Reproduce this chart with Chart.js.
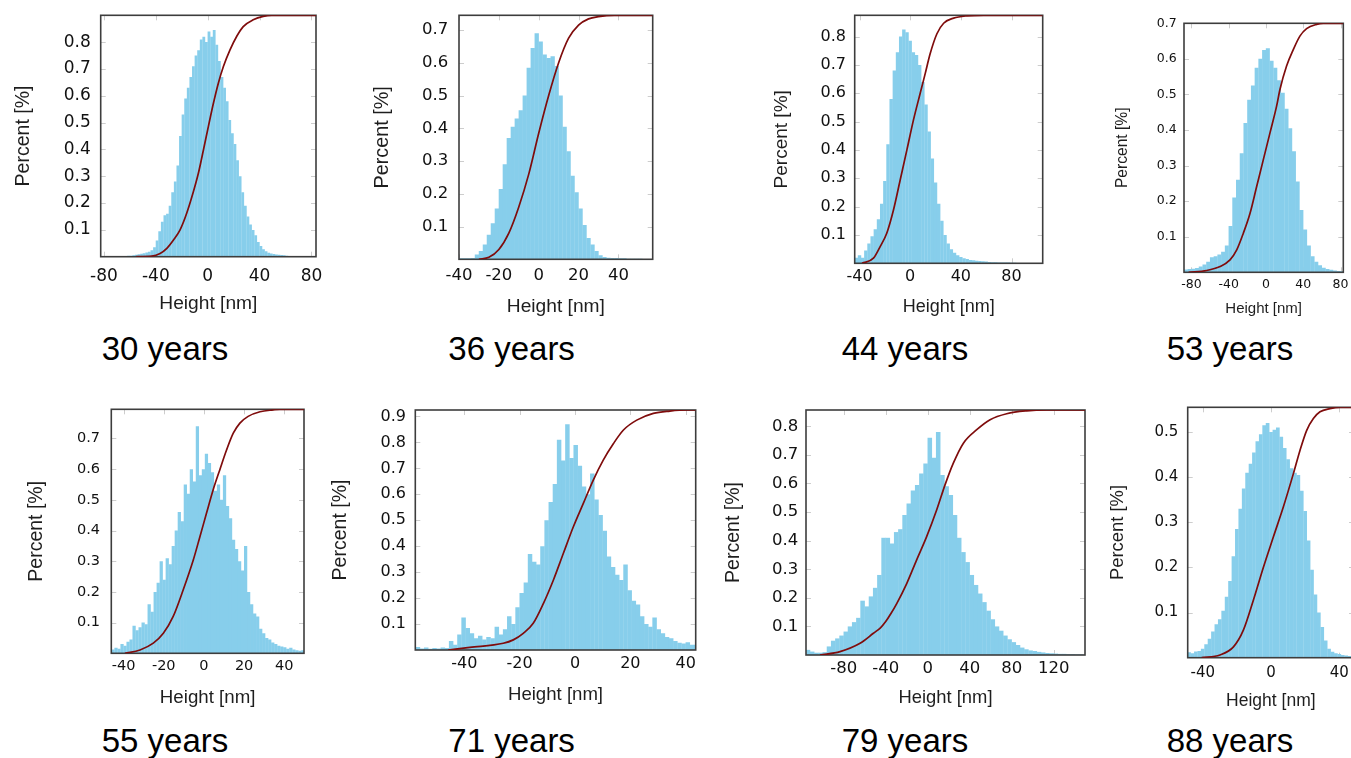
<!DOCTYPE html>
<html>
<head>
<meta charset="utf-8">
<script src="https://cdn.jsdelivr.net/npm/chart.js@4.4.0/dist/chart.umd.min.js"></script>
<style>
  html, body { margin: 0; padding: 0; background: #fff; }
  body { position: relative; width: 1351px; height: 758px; overflow: hidden; }
  canvas { position: absolute; }
  .age { position: absolute; font-family: "Liberation Sans", Arial, sans-serif; font-size: 33px; line-height: 33px; color: #000; white-space: nowrap; }
</style>
</head>
<body>
<script>

// ---- data ----
// histograms: first bin edge + bin width (nm), bar heights (%)

const start30 = -82, step30 = 2;
const hist30 = [0.003,0.003,0.002,0.003,0.002,0.003,0.003,0.002,0.003,0.003,
  0.004,0.004,0.005,0.007,0.009,0.011,0.013,0.016,0.018,0.024,
  0.035,0.06,0.095,0.13,0.155,0.16,0.19,0.24,0.28,0.34,
  0.45,0.53,0.59,0.63,0.67,0.71,0.75,0.77,0.81,0.82,
  0.8,0.84,0.82,0.845,0.79,0.73,0.67,0.63,0.58,0.51,
  0.46,0.42,0.36,0.3,0.24,0.19,0.15,0.12,0.1,0.08,
  0.055,0.04,0.028,0.02,0.015,0.012,0.01,0.008,0.007,0.006,
  0.005,0.004,0.003,0.002];
// cumulative curve
const curveX30 = [-55,-43.1,-36.7,-31.5,-26.4,-21.3,-16.2,-11,-7.2,-3.3,0.5,4.4,8.2,12.1,17.2,22.3,27.4,35.1,42.8,49.2,83.5];
const curveY30 = [0,0.002,0.012,0.031,0.062,0.1,0.162,0.243,0.311,0.398,0.485,0.572,0.647,0.709,0.771,0.821,0.858,0.883,0.896,0.9,0.9];
const xTicks30 = [-80,-40,0,40,80];
const yTicks30 = [0.1,0.2,0.3,0.4,0.5,0.6,0.7,0.8];

const start36 = -40, step36 = 2;
const hist36 = [0.003,0.003,0.003,0.004,0.015,0.025,0.045,0.075,0.11,0.155,
  0.215,0.29,0.37,0.405,0.43,0.455,0.5,0.585,0.645,0.69,
  0.665,0.625,0.615,0.62,0.59,0.5,0.405,0.33,0.255,0.205,
  0.155,0.105,0.065,0.045,0.025,0.012,0.007,0.005,0.004,0.004,
  0.003,0.003,0.002,0.002,0.002,0.002,0.001,0.001,0.001];
const curveX36 = [-30,-25,-20,-15,-10,-5,0,5,10,15,20,25,30,38,57.2];
const curveY36 = [0,0.006,0.03,0.08,0.16,0.26,0.385,0.5,0.6,0.675,0.715,0.734,0.741,0.745,0.745];
const xTicks36 = [-40,-20,0,20,40];
const yTicks36 = [0.1,0.2,0.3,0.4,0.5,0.6,0.7];

const start44 = -43.75, step44 = 2.5;
const hist44 = [0.02,0.028,0.02,0.045,0.07,0.095,0.12,0.155,0.21,0.29,
  0.42,0.58,0.68,0.745,0.8,0.825,0.815,0.785,0.745,0.735,
  0.7,0.64,0.56,0.465,0.37,0.285,0.21,0.15,0.1,0.07,
  0.05,0.037,0.028,0.022,0.018,0.015,0.012,0.011,0.009,0.008,
  0.007,0.006,0.005,0.004,0.004,0.003,0.003,0.003,0.003,0.002,
  0.002];
const curveX44 = [-38,-29,-23.7,-18.5,-13.2,-7.9,-2.6,2.6,7.9,11.9,15.8,21.1,26.4,34.3,44.9,58,104.6];
const curveY44 = [0,0.018,0.059,0.106,0.188,0.294,0.4,0.506,0.6,0.67,0.74,0.81,0.847,0.865,0.873,0.875,0.875];
const xTicks44 = [-40,0,40,80];
const yTicks44 = [0.1,0.2,0.3,0.4,0.5,0.6,0.7,0.8];

const start53 = -88, step53 = 4;
const hist53 = [0.008,0.009,0.01,0.012,0.016,0.022,0.03,0.042,0.045,0.05,
  0.058,0.075,0.13,0.21,0.26,0.335,0.42,0.485,0.525,0.575,
  0.6,0.625,0.63,0.595,0.575,0.54,0.505,0.46,0.405,0.34,
  0.255,0.175,0.12,0.075,0.045,0.03,0.02,0.013,0.009,0.007,
  0.005,0.004,0.003];
const curveX53 = [-83,-63.6,-49.3,-38.6,-31.4,-24.3,-17.1,-10,-2.9,4.3,11.4,15,22.1,29.3,36.4,43.6,54.3,61.4,83];
const curveY53 = [0,0.005,0.016,0.035,0.063,0.11,0.166,0.241,0.316,0.392,0.467,0.514,0.58,0.626,0.664,0.685,0.697,0.7,0.7];
const xTicks53 = [-80,-40,0,40,80];
const yTicks53 = [0.1,0.2,0.3,0.4,0.5,0.6,0.7];

const start55 = -46, step55 = 1.5;
const hist55 = [0.012,0.018,0.015,0.03,0.025,0.038,0.045,0.09,0.075,0.085,
  0.1,0.095,0.16,0.135,0.2,0.23,0.3,0.24,0.31,0.29,
  0.35,0.4,0.46,0.43,0.55,0.52,0.6,0.56,0.74,0.58,
  0.6,0.65,0.62,0.59,0.53,0.55,0.5,0.58,0.48,0.44,
  0.37,0.34,0.3,0.27,0.35,0.2,0.16,0.13,0.12,0.08,
  0.065,0.05,0.045,0.035,0.03,0.025,0.022,0.02,0.015,0.018,
  0.012,0.01,0.008,0.01];
const curveX55 = [-39.3,-31.8,-25.2,-20.2,-15.3,-10.3,-5.3,-2,1.3,4.6,8,11.3,14.6,17.9,22,27.9,34.5,37.8,49.8];
const curveY55 = [0,0.011,0.033,0.065,0.12,0.207,0.304,0.38,0.457,0.533,0.6,0.663,0.717,0.75,0.772,0.787,0.793,0.795,0.795];
const xTicks55 = [-40,-20,0,20,40];
const yTicks55 = [0.1,0.2,0.3,0.4,0.5,0.6,0.7];

const start71 = -57.5, step71 = 1.5;
const hist71 = [0.012,0.006,0.01,0.005,0.008,0.006,0.01,0.008,0.035,0.02,
  0.06,0.125,0.085,0.065,0.045,0.055,0.04,0.05,0.045,0.09,
  0.06,0.08,0.13,0.1,0.165,0.22,0.26,0.37,0.34,0.33,
  0.4,0.5,0.57,0.64,0.81,0.73,0.87,0.74,0.79,0.71,
  0.63,0.6,0.68,0.58,0.52,0.46,0.36,0.32,0.29,0.27,
  0.33,0.23,0.19,0.175,0.13,0.1,0.09,0.125,0.08,0.065,
  0.05,0.045,0.035,0.028,0.025,0.03,0.02,0.02];
const curveX71 = [-45.8,-38,-25.9,-22.3,-18.7,-15.1,-11.4,-7.8,-4.2,-0.6,3,6.6,10.2,13.9,17.5,22.3,28.3,34.3,40.4,43.6];
const curveY71 = [0,0.01,0.026,0.039,0.064,0.103,0.18,0.27,0.373,0.475,0.565,0.655,0.732,0.796,0.848,0.886,0.912,0.921,0.925,0.925];
const xTicks71 = [-40,-20,0,20,40];
const yTicks71 = [0.1,0.2,0.3,0.4,0.5,0.6,0.7,0.8,0.9];

const start79 = -116, step79 = 4;
const hist79 = [0.018,0.012,0.008,0.008,0.01,0.03,0.05,0.058,0.068,0.082,
  0.1,0.115,0.13,0.19,0.17,0.205,0.235,0.28,0.41,0.41,
  0.39,0.43,0.44,0.49,0.53,0.575,0.595,0.635,0.67,0.76,
  0.69,0.78,0.63,0.59,0.56,0.49,0.41,0.36,0.325,0.28,
  0.245,0.215,0.185,0.155,0.125,0.1,0.085,0.068,0.055,0.045,
  0.035,0.026,0.02,0.016,0.014,0.011,0.009,0.007,0.006,0.005,
  0.004,0.004,0.003,0.003,0.002,0.002];
const curveX79 = [-102.5,-83.5,-64.4,-51.7,-45,-40,-35,-29.5,-20,-10.5,-1,8.6,16.5,24.4,34,46.7,59.4,75.2,94.3,113,149.8];
const curveY79 = [0,0.012,0.041,0.076,0.095,0.117,0.145,0.18,0.25,0.333,0.414,0.508,0.595,0.671,0.741,0.788,0.823,0.844,0.854,0.857,0.857];
const xTicks79 = [-80,-40,0,40,80,120];
const yTicks79 = [0.1,0.2,0.3,0.4,0.5,0.6,0.7,0.8];

const start88 = -49, step88 = 2;
const hist88 = [0.012,0.01,0.014,0.015,0.02,0.03,0.042,0.058,0.074,0.085,
  0.104,0.135,0.17,0.225,0.285,0.33,0.375,0.41,0.43,0.455,
  0.48,0.495,0.515,0.52,0.5,0.505,0.51,0.49,0.465,0.44,
  0.42,0.41,0.405,0.37,0.325,0.26,0.195,0.14,0.1,0.068,
  0.038,0.02,0.013,0.01,0.008,0.006,0.005,0.004];
const curveX88 = [-40.6,-29.9,-22,-16.2,-10.3,-4.5,1.4,7.2,13.1,17,20.9,24.8,28.7,34.5,40.4,48.6];
const curveY88 = [0,0.006,0.024,0.061,0.128,0.2,0.268,0.334,0.408,0.46,0.504,0.53,0.545,0.552,0.555,0.555];
const xTicks88 = [-40,0,40];
const yTicks88 = [0.1,0.2,0.3,0.4,0.5];


// ---- layout of the 8 panels (plot box = left, top, right, bottom) ----

const panels = [
  { age: '30 years', hist: hist30, start: start30, step: step30, cx: curveX30, cy: curveY30, xt: xTicks30, yt: yTicks30,
    xMin: -82.5, xMax: 83.5, yMax: 0.9, box: [100.7, 15.3, 316, 256.7],
    tick: 17, xTitle: 19.2, yTitle: 19.5, tickY: 277, gapY: 10, xTitleY: 304, yTitleX: 23.3, name: [101.7, 360] },
  { age: '36 years', hist: hist36, start: start36, step: step36, cx: curveX36, cy: curveY36, xt: xTicks36, yt: yTicks36,
    xMin: -40, xMax: 57.2, yMax: 0.745, box: [459, 15.3, 652.7, 259.3],
    tick: 16.5, xTitle: 19.2, yTitle: 19.8, tickY: 276, gapY: 10.7, xTitleY: 306.7, yTitleX: 382.5, name: [448.3, 359.5] },
  { age: '44 years', hist: hist44, start: start44, step: step44, cx: curveX44, cy: curveY44, xt: xTicks44, yt: yTicks44,
    xMin: -43.8, xMax: 104.6, yMax: 0.875, box: [854.7, 15.3, 1042.7, 263.3],
    tick: 16, xTitle: 18, yTitle: 19, tickY: 276.7, gapY: 8.7, xTitleY: 307.5, yTitleX: 781.7, name: [841.7, 359.5] },
  { age: '53 years', hist: hist53, start: start53, step: step53, cx: curveX53, cy: curveY53, xt: xTicks53, yt: yTicks53,
    xMin: -88, xMax: 83, yMax: 0.7, box: [1184, 23.3, 1343.3, 272.3],
    tick: 12.5, xTitle: 15, yTitle: 15.6, tickY: 285, gapY: 7.3, xTitleY: 309, yTitleX: 1123, name: [1166.7, 359.5] },
  { age: '55 years', hist: hist55, start: start55, step: step55, cx: curveX55, cy: curveY55, xt: xTicks55, yt: yTicks55,
    xMin: -46.1, xMax: 49.8, yMax: 0.795, box: [111.3, 409.3, 304, 653.3],
    tick: 14.5, xTitle: 18.7, yTitle: 19.5, tickY: 666.7, gapY: 11.3, xTitleY: 698.3, yTitleX: 36.7, name: [101.7, 752] },
  { age: '71 years', hist: hist71, start: start71, step: step71, cx: curveX71, cy: curveY71, xt: xTicks71, yt: yTicks71,
    xMin: -57.7, xMax: 43.6, yMax: 0.925, box: [415.3, 410, 695.7, 650],
    tick: 16, xTitle: 18.6, yTitle: 19.5, tickY: 664, gapY: 9.3, xTitleY: 695, yTitleX: 340.8, name: [448.3, 752] },
  { age: '79 years', hist: hist79, start: start79, step: step79, cx: curveX79, cy: curveY79, xt: xTicks79, yt: yTicks79,
    xMin: -115.9, xMax: 149.8, yMax: 0.857, box: [806, 410, 1085, 655],
    tick: 16.5, xTitle: 18.4, yTitle: 19.5, tickY: 668.3, gapY: 7.7, xTitleY: 698.3, yTitleX: 733.8, name: [841.7, 752] },
  { age: '88 years', hist: hist88, start: start88, step: step88, cx: curveX88, cy: curveY88, xt: xTicks88, yt: yTicks88,
    xMin: -48.8, xMax: 48.6, yMax: 0.555, box: [1187.7, 407.3, 1354, 657.7],
    tick: 15, xTitle: 17.5, yTitle: 18.4, tickY: 672.7, gapY: 9.4, xTitleY: 701, yTitleX: 1118, name: [1166.7, 752] }
];

Chart.defaults.animation = false;
Chart.defaults.events = [];

const TICK_FONT = '"DejaVu Sans", Verdana, sans-serif';
const TITLE_FONT = '"Liberation Sans", Arial, sans-serif';

// frame plugin: little inner tick marks + dark box, drawn right after the bars
const framePlugin = {
  id: 'frame',
  beforeDatasetsDraw(chart) {
    const { ctx, chartArea: a, scales: { x, y } } = chart;
    ctx.save();
    ctx.strokeStyle = '#cdcdcd';
    ctx.lineWidth = 1;
    ctx.beginPath();
    x.ticks.forEach(t => {
      const px = Math.round(x.getPixelForValue(t.value)) + 0.5;
      ctx.moveTo(px, a.top); ctx.lineTo(px, a.top + 5);
      ctx.moveTo(px, a.bottom); ctx.lineTo(px, a.bottom - 5);
    });
    y.ticks.forEach(t => {
      const py = Math.round(y.getPixelForValue(t.value)) + 0.5;
      ctx.moveTo(a.left, py); ctx.lineTo(a.left + 5, py);
      ctx.moveTo(a.right, py); ctx.lineTo(a.right - 5, py);
    });
    ctx.stroke();
    ctx.restore();
  },
  afterDatasetDraw(chart, args) {
    if (args.index !== 1) return;
    const { ctx, chartArea: a } = chart;
    ctx.save();
    ctx.strokeStyle = '#3d3d3d';
    ctx.lineWidth = 1.6;
    ctx.strokeRect(a.left, a.top, a.right - a.left, a.bottom - a.top);
    ctx.restore();
  }
};

function addPanel(p) {
  const [L, T, R, B] = p.box;
  const cl = Math.floor(p.yTitleX - 0.6 * p.yTitle - 3);
  const ct = Math.floor(T - 8);
  const cr = Math.ceil(R + 8);
  const cb = Math.ceil(p.xTitleY + 0.6 * p.xTitle + 4);
  const W = cr - cl, H = cb - ct;

  const cv = document.createElement('canvas');
  cv.width = W; cv.height = H;
  cv.style.left = cl + 'px'; cv.style.top = ct + 'px';
  cv.style.width = W + 'px'; cv.style.height = H + 'px';
  document.body.appendChild(cv);

  const padL = L - cl, padB = cb - B;

  const bars = p.hist.map((v, i) => ({ x: p.start + (i + 0.5) * p.step, y: v }));
  const curve = p.cx.map((x, i) => ({ x: x, y: p.cy[i] }));

  new Chart(cv, {
    type: 'bar',
    data: {
      datasets: [{
        type: 'line',
        data: curve,
        borderColor: '#7f0c0c',
        borderWidth: 1.7,
        pointRadius: 0,
        cubicInterpolationMode: 'monotone',
        order: 0
      }, {
        type: 'bar',
        data: bars,
        backgroundColor: '#87CEEB',
        borderWidth: 0,
        barPercentage: 1.08,
        categoryPercentage: 1,
        grouped: false,
        order: 1
      }]
    },
    options: {
      responsive: false,
      maintainAspectRatio: false,
      layout: { padding: { left: 0, bottom: 0, top: T - ct, right: cr - R } },
      plugins: { legend: { display: false }, tooltip: { enabled: false } },
      scales: {
        x: {
          type: 'linear',
          min: p.xMin, max: p.xMax,
          offset: false,
          bounds: 'data',
          grid: { display: false, drawTicks: false },
          border: { display: false },
          afterBuildTicks: s => { s.ticks = p.xt.map(v => ({ value: v })); },
          afterFit: s => { s.height = padB; s.paddingLeft = 0; s.paddingRight = 0; },
          ticks: {
            autoSkip: false, maxRotation: 0,
            padding: p.tickY - B - 0.6 * p.tick,
            font: { family: TICK_FONT, size: p.tick },
            color: '#111',
            callback: v => String(v)
          },
          title: {
            display: true, text: 'Height [nm]', color: '#1e1e1e',
            font: { family: TITLE_FONT, size: p.xTitle },
            padding: { top: 0, bottom: H - (p.xTitleY - ct) - 0.6 * p.xTitle }
          }
        },
        y: {
          type: 'linear',
          min: 0, max: p.yMax,
          bounds: 'data',
          grid: { display: false, drawTicks: false },
          border: { display: false },
          afterBuildTicks: s => { s.ticks = p.yt.map(v => ({ value: v })); },
          afterFit: s => { s.width = padL; s.paddingTop = 0; s.paddingBottom = 0; },
          ticks: {
            autoSkip: false,
            padding: p.gapY,
            font: { family: TICK_FONT, size: p.tick },
            color: '#111',
            callback: v => String(v)
          },
          title: {
            display: true, text: 'Percent [%]', color: '#1e1e1e',
            font: { family: TITLE_FONT, size: p.yTitle },
            padding: { top: p.yTitleX - cl - 0.6 * p.yTitle, bottom: 0 }
          }
        }
      }
    },
    plugins: [framePlugin]
  });

  const lab = document.createElement('div');
  lab.className = 'age';
  lab.textContent = p.age;
  lab.style.left = p.name[0] + 'px';
  lab.style.top = (p.name[1] - 28) + 'px';
  document.body.appendChild(lab);
}

panels.forEach(addPanel);
</script>
</body>
</html>
